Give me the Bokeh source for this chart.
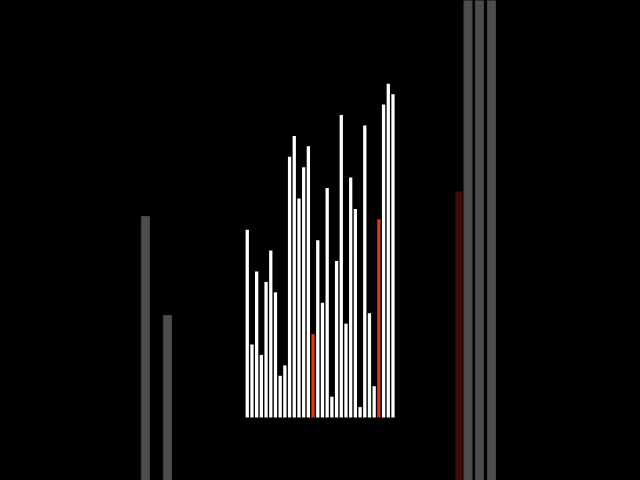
from bokeh.plotting import figure
from bokeh.models import Range1d, ColumnDataSource
from bokeh.embed import file_html
from bokeh.resources import INLINE

# Main bars: a permutation of 1..32 (sorting visualisation frame)
values = [18, 7, 14, 6, 13, 16, 12, 4, 5, 25, 27, 21, 24, 26, 8, 17,
          11, 22, 2, 15, 29, 9, 23, 20, 1, 28, 10, 3, 19, 30, 32, 31]
highlight = [14, 28]  # indices drawn in red

# Faded "ghost" bars around the chart
ghost_x = [-21.66, -16.98, 46.96, 49.40, 51.96]
ghost_top = [19.27, 9.78, 50.0, 50.0, 50.0]
ghost_red_x = [45.04]
ghost_red_top = [21.67]

WHITE = "#ffffff"
RED = "#d63a1a"
GRAY = "#4d4d4d"
DARK_RED = "#3f0c06"

idx = list(range(len(values)))
colors = [RED if i in highlight else WHITE for i in idx]
src = ColumnDataSource(dict(x=idx, top=values, color=colors))

p = figure(width=640, height=480, output_backend="svg", toolbar_location=None,
           x_range=Range1d(-52.5, 83.66), y_range=Range1d(-6.04, 39.98),
           min_border=0, background_fill_color="#000000",
           border_fill_color="#000000")
p.axis.visible = False
p.grid.visible = False
p.outline_line_color = None

p.vbar(x=ghost_x, top=ghost_top, bottom=-10, width=1.72,
       fill_color=GRAY, line_color="#444444", line_width=1)
p.vbar(x=ghost_red_x, top=ghost_red_top, bottom=-10, width=1.55,
       fill_color=DARK_RED, line_color=None)
p.vbar(x="x", top="top", bottom=0, width=0.70, source=src,
       fill_color="color", line_color=None)

html = file_html(p, INLINE)
html = html.replace("<head>", "<head><style>html,body{margin:0;padding:0;"
                    "background:#000;overflow:hidden}</style>", 1)
open("out.html", "w").write(html)
